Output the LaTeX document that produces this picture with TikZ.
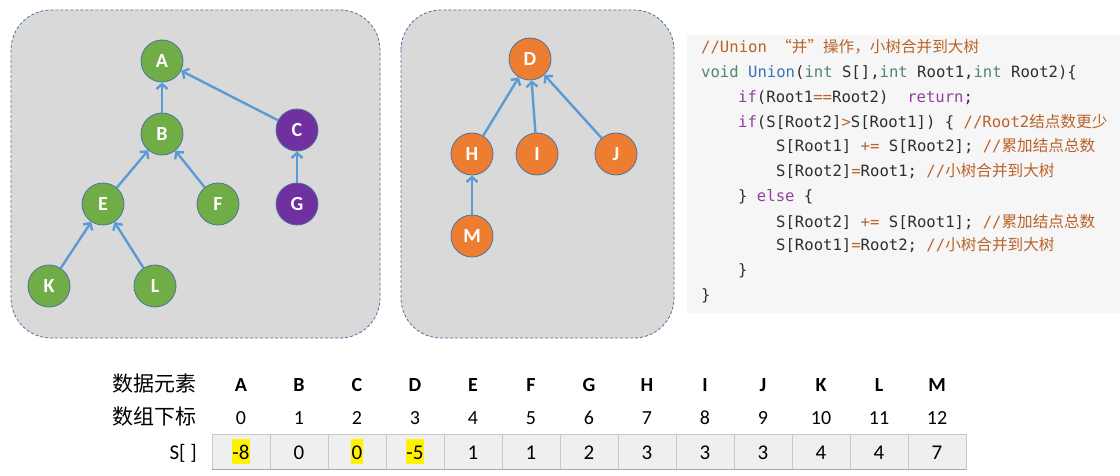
\documentclass[tikz,border=0pt]{standalone}
\usepackage{fontspec}
\setmainfont{Carlito}
\newfontfamily\cjk{Noto Sans CJK SC}
\newfontfamily\codefont{DejaVu Sans Mono}
\usetikzlibrary{arrows.meta}
\definecolor{panelfill}{HTML}{D9D9D9}
\definecolor{panelborder}{HTML}{4A74A0}
\definecolor{edgeblue}{HTML}{5B9BD5}
\definecolor{ngreen}{HTML}{70AD47}
\definecolor{npurple}{HTML}{7030A0}
\definecolor{norange}{HTML}{ED7D31}
\definecolor{codebg}{HTML}{F6F6F6}
\definecolor{ccomment}{HTML}{BA632A}
\definecolor{ckey}{HTML}{4F8571}
\definecolor{cfunc}{HTML}{3A72BC}
\definecolor{cctrl}{HTML}{9440A2}
\definecolor{ctext}{HTML}{2E2E2E}
\definecolor{cellfill}{HTML}{EFEFEF}
\definecolor{cellline}{HTML}{C8C8C8}
\definecolor{celldark}{HTML}{A8A8A8}
\newcommand\cmt[1]{\textcolor{ccomment}{#1}}
\newcommand\kw[1]{\textcolor{ckey}{#1}}
\newcommand\fn[1]{\textcolor{cfunc}{#1}}
\newcommand\ctl[1]{\textcolor{cctrl}{#1}}
\newcommand\op[1]{\textcolor{ccomment}{#1}}
\begin{document}
\begin{tikzpicture}[x=1pt,y=-1pt,
  panel/.style={fill=panelfill, draw=panelborder, line width=0.8pt, dash pattern=on 3pt off 2pt, rounded corners=40pt},
  vtx/.style={circle, minimum size=42pt, inner sep=0pt, draw=panelborder, line width=0.8pt, text=white, font=\fontsize{20}{24}\selectfont\bfseries},
  gv/.style={vtx, fill=ngreen},
  pv/.style={vtx, fill=npurple},
  ov/.style={vtx, fill=norange},
  edge/.style={draw=edgeblue, line width=2.4pt, -{Straight Barb[length=5pt,width=11pt]}},
  code/.style={anchor=base west, inner sep=0pt, text=ctext, font=\codefont\fontsize{15.6}{18}\selectfont},
  rowlab/.style={anchor=base east, inner sep=0pt, font=\fontsize{21}{25}\selectfont},
  head/.style={anchor=base, inner sep=0pt, font=\fontsize{20}{24}\selectfont\bfseries},
  idx/.style={anchor=base, inner sep=0pt, font=\fontsize{20}{24}\selectfont},
  cell/.style={draw=cellline, fill=cellfill, line width=0.8pt, minimum width=58pt, minimum height=35pt, inner sep=0pt},
  val/.style={anchor=base, inner xsep=0.3pt, inner ysep=0pt, text height=20.5pt, text depth=5pt, font=\fontsize{21}{25}\selectfont},
]
\useasboundingbox (0,0) rectangle (1120,476);
\fill[white] (0,0) rectangle (1120,476);

% panels
\draw[panel] (11,10) rectangle (380,338);
\draw[panel] (401,10) rectangle (674,338);

% tree 1
\node[gv] (A) at (162,61) {A};
\node[gv] (B) at (162,134) {B};
\node[pv] (C) at (297,130) {C};
\node[gv] (E) at (103,204) {E};
\node[gv] (F) at (218,204) {F};
\node[pv] (G) at (297,204) {G};
\node[gv] (K) at (49,286) {K};
\node[gv] (L) at (155,286) {L};
\draw[edge] (B) -- (A);
\draw[edge] (C) -- (A);
\draw[edge] (E) -- (B);
\draw[edge] (F) -- (B);
\draw[edge] (G) -- (C);
\draw[edge] (K) -- (E);
\draw[edge] (L) -- (E);

% tree 2
\node[ov] (D) at (530,59) {D};
\node[ov] (H) at (472,154) {H};
\node[ov] (I) at (537,154) {I};
\node[ov] (J) at (616,154) {J};
\node[ov] (M) at (472,236) {M};
\draw[edge] (H) -- (D);
\draw[edge] (I) -- (D);
\draw[edge] (J) -- (D);
\draw[edge] (M) -- (H);

% code
\fill[codebg] (687,35) rectangle (1120,313);
\node[code] (c1) at (701,53) {\cmt{//Union {\cjk “并”操作，小树合并到大树}}};
\node[code] (c2) at (701,78) {\kw{void} \fn{Union}(\kw{int} S[],\kw{int} Root1,\kw{int} Root2)\{};
\node[code] (c3) at (738,103) {\ctl{if}(Root1\op{==}Root2)\ \ \ctl{return};};
\node[code] (c4) at (738,128) {\ctl{if}(S[Root2]\op{>}S[Root1]) \{ \cmt{//Root2{\cjk 结点数更少}}};
\node[code] (c5) at (776,152) {S[Root1] \op{+=} S[Root2]; \cmt{//{\cjk 累加结点总数}}};
\node[code] (c6) at (776,177) {S[Root2]\op{=}Root1; \cmt{//{\cjk 小树合并到大树}}};
\node[code] (c7) at (738,202) {\} \ctl{else} \{};
\node[code] (c8) at (776,227) {S[Root2] \op{+=} S[Root1]; \cmt{//{\cjk 累加结点总数}}};
\node[code] (c9) at (776,251) {S[Root1]\op{=}Root2; \cmt{//{\cjk 小树合并到大树}}};
\node[code] (c10) at (738,275) {\}};
\node[code] (c11) at (701,300) {\}};

% table
\node[rowlab] (lab1) at (197,391) {\cjk 数据元素};
\node[rowlab] (lab2) at (197,424) {\cjk 数组下标};
\node[rowlab] (lab3) at (197,459) {S[ ]};
\foreach \l [count=\i from 0] in {A,B,C,D,E,F,G,H,I,J,K,L,M} {
  \node[head] (h\i) at (241+58*\i,391) {\l};
  \node[idx] (x\i) at (241+58*\i,424) {\i};
}
\foreach \v/\fc [count=\i from 0] in {-8/yellow,0/none,0/yellow,-5/yellow,1/none,1/none,2/none,3/none,3/none,3/none,4/none,4/none,7/none} {
  \node[cell] (cell\i) at (241+58*\i,451.5) {};
}
\draw[celldark, line width=1pt] (cell0.south west) -- (cell12.south east);
\foreach \v/\fc [count=\i from 0] in {-8/yellow,0/none,0/yellow,-5/yellow,1/none,1/none,2/none,3/none,3/none,3/none,4/none,4/none,7/none} {
  \node[val, fill=\fc] (v\i) at (241+58*\i,459) {\v};
}
\end{tikzpicture}
\end{document}
